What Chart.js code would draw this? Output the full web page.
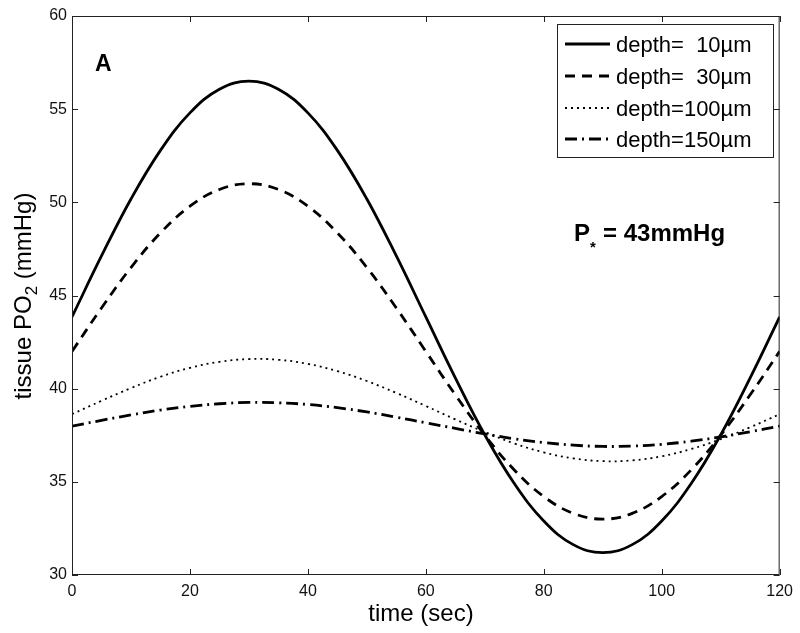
<!DOCTYPE html>
<html>
<head>
<meta charset="utf-8">
<script src="https://cdn.jsdelivr.net/npm/chart.js@4.4.1/dist/chart.umd.min.js"></script>
<style>
  html, body { margin: 0; padding: 0; background: #fff; }
  #wrap { width: 800px; height: 633px; }
</style>
</head>
<body>
<div id="wrap"><canvas id="chart" width="800" height="633"></canvas></div>
<script>
// time axis (sec), read every 5 s
const timeSec = [0, 5, 10, 15, 20, 25, 30, 35, 40, 45, 50, 55, 60,
  65, 70, 75, 80, 85, 90, 95, 100, 105, 110, 115, 120];

// tissue PO2 (mmHg) per depth
const depth10 = [43.85, 47.12, 50.18, 52.79, 54.80, 56.07, 56.50, 56.07, 54.80, 52.79, 50.18, 47.12, 43.85,
  40.58, 37.52, 34.91, 32.90, 31.63, 31.20, 31.63, 32.90, 34.91, 37.52, 40.58, 43.85];
const depth30 = [42.00, 44.33, 46.50, 48.36, 49.79, 50.69, 51.00, 50.69, 49.79, 48.36, 46.50, 44.33, 42.00,
  39.67, 37.50, 35.64, 34.21, 33.31, 33.00, 33.31, 34.21, 35.64, 37.50, 39.67, 42.00];
const depth100 = [38.63, 39.35, 40.03, 40.64, 41.12, 41.44, 41.59, 41.55, 41.33, 40.94, 40.41, 39.77, 39.07,
  38.35, 37.67, 37.06, 36.58, 36.26, 36.11, 36.15, 36.37, 36.76, 37.29, 37.93, 38.63];
const depth150 = [37.99, 38.30, 38.59, 38.85, 39.05, 39.19, 39.26, 39.24, 39.15, 38.98, 38.75, 38.47, 38.17,
  37.87, 37.57, 37.31, 37.11, 36.97, 36.90, 36.92, 37.01, 37.18, 37.41, 37.69, 37.99];

const seriesLabels = ['depth=  10\u00b5m', 'depth=  30\u00b5m', 'depth=100\u00b5m', 'depth=150\u00b5m'];

const FONT = "'Liberation Sans', Arial, Helvetica, sans-serif";

// line styles: solid, dashed, dotted, dash-dot
const lineStyles = [
  { width: 2.8, dash: [] },
  { width: 2.8, dash: [10, 7] },
  { width: 1.8, dash: [2, 4] },
  { width: 2.8, dash: [12, 5, 2, 5] }
];

function toPoints(values) {
  return timeSec.map((t, i) => ({ x: t, y: values[i] }));
}

// White background, box frame, inward ticks, titles, legend, annotations
const matlabFramePlugin = {
  id: 'matlabFrame',
  beforeDraw: (chart) => {
    const ctx = chart.ctx;
    ctx.save();
    ctx.fillStyle = '#fff';
    ctx.fillRect(0, 0, chart.width, chart.height);
    ctx.restore();
  },
  afterDatasetsDraw: (chart) => {
    const ctx = chart.ctx;
    const area = chart.chartArea;
    const xScale = chart.scales.x;
    const yScale = chart.scales.y;
    const tickLen = 6;

    ctx.save();
    ctx.strokeStyle = '#222';
    ctx.lineWidth = 1;
    ctx.setLineDash([]);

    // frame
    ctx.strokeRect(area.left + 0.5, area.top + 0.5, area.right - area.left - 1, area.bottom - area.top - 1);

    // inward ticks
    ctx.beginPath();
    xScale.ticks.forEach(t => {
      const px = Math.round(xScale.getPixelForValue(t.value)) + 0.5;
      ctx.moveTo(px, area.bottom);
      ctx.lineTo(px, area.bottom - tickLen);
      ctx.moveTo(px, area.top);
      ctx.lineTo(px, area.top + tickLen);
    });
    yScale.ticks.forEach(t => {
      const py = Math.round(yScale.getPixelForValue(t.value)) + 0.5;
      ctx.moveTo(area.left, py);
      ctx.lineTo(area.left + tickLen, py);
      ctx.moveTo(area.right, py);
      ctx.lineTo(area.right - tickLen, py);
    });
    ctx.stroke();

    ctx.fillStyle = '#000';

    // x axis title
    ctx.font = '24px ' + FONT;
    ctx.textAlign = 'center';
    ctx.textBaseline = 'alphabetic';
    ctx.fillText('time (sec)', 421, 621);

    // y axis title with subscript
    ctx.save();
    ctx.translate(31, 296);
    ctx.rotate(-Math.PI / 2);
    ctx.textAlign = 'left';
    const partA = 'tissue PO';
    const partB = '2';
    const partC = ' (mmHg)';
    ctx.font = '24px ' + FONT;
    const wA = ctx.measureText(partA).width;
    const wC = ctx.measureText(partC).width;
    ctx.font = '17px ' + FONT;
    const wB = ctx.measureText(partB).width;
    let start = -(wA + wB + wC) / 2;
    ctx.font = '24px ' + FONT;
    ctx.fillText(partA, start, 0);
    ctx.font = '17px ' + FONT;
    ctx.fillText(partB, start + wA, 6);
    ctx.font = '24px ' + FONT;
    ctx.fillText(partC, start + wA + wB, 0);
    ctx.restore();

    // panel letter
    ctx.font = 'bold 23px ' + FONT;
    ctx.textAlign = 'left';
    ctx.fillText('A', 95, 71);

    // P* annotation
    ctx.font = 'bold 24px ' + FONT;
    ctx.fillText('P', 574, 241);
    ctx.font = 'bold 15px ' + FONT;
    ctx.fillText('*', 590, 252);
    ctx.font = 'bold 24px ' + FONT;
    ctx.fillText('= 43mmHg', 603, 241);

    // legend
    ctx.fillStyle = '#fff';
    ctx.fillRect(557, 24, 216, 133);
    ctx.strokeStyle = '#222';
    ctx.lineWidth = 1;
    ctx.strokeRect(557.5, 24.5, 216, 133);
    const rowY = [44, 76, 108, 139];
    ctx.font = '22px ' + FONT;
    ctx.fillStyle = '#000';
    ctx.textBaseline = 'alphabetic';
    seriesLabels.forEach((label, i) => {
      const st = lineStyles[i];
      ctx.beginPath();
      ctx.strokeStyle = '#000';
      ctx.lineWidth = st.width;
      ctx.setLineDash(st.dash);
      ctx.moveTo(565, rowY[i]);
      ctx.lineTo(610, rowY[i]);
      ctx.stroke();
      ctx.setLineDash([]);
      ctx.fillText(label, 616, rowY[i] + 8);
    });

    ctx.restore();
  }
};

Chart.register(matlabFramePlugin);

const datasets = [depth10, depth30, depth100, depth150].map((vals, i) => ({
  label: seriesLabels[i],
  data: toPoints(vals),
  borderColor: '#000',
  backgroundColor: '#000',
  borderWidth: lineStyles[i].width,
  borderDash: lineStyles[i].dash,
  pointRadius: 0,
  tension: 0.4,
  fill: false
}));

const ctx = document.getElementById('chart').getContext('2d');
new Chart(ctx, {
  type: 'line',
  data: { datasets: datasets },
  options: {
    responsive: false,
    animation: false,
    layout: { padding: { left: 0, top: 16, right: 19, bottom: 0 } },
    plugins: {
      legend: { display: false },
      tooltip: { enabled: false }
    },
    scales: {
      x: {
        type: 'linear',
        min: 0,
        max: 120,
        grid: { display: false, drawTicks: false },
        border: { display: false },
        ticks: {
          stepSize: 20,
          padding: 7,
          color: '#111',
          maxRotation: 0,
          font: { family: FONT, size: 16 }
        },
        afterFit: (scale) => { scale.height = 58; }
      },
      y: {
        min: 30,
        max: 60,
        grid: { display: false, drawTicks: false },
        border: { display: false },
        ticks: {
          stepSize: 5,
          padding: 5,
          color: '#111',
          font: { family: FONT, size: 16 }
        },
        afterFit: (scale) => { scale.width = 72; }
      }
    }
  }
});
</script>
</body>
</html>
